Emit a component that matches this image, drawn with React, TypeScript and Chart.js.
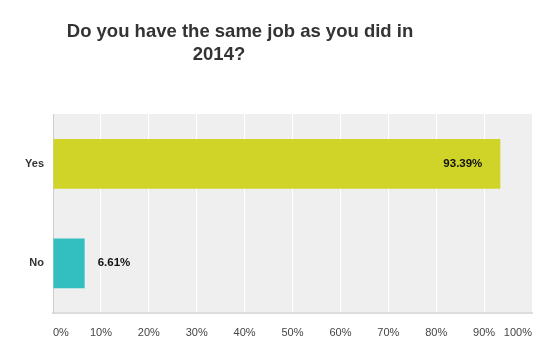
import React, { useEffect, useRef } from "react";
import { Chart, registerables } from "chart.js";

Chart.register(...registerables);

const categories = ["Yes", "No"];
const values = [93.39, 6.61];
const valueLabels = ["93.39%", "6.61%"];
const barColors = ["#D0D428", "#33BEC0"];
const xTicks = [0, 10, 20, 30, 40, 50, 60, 70, 80, 90, 100];
const titleLines = ["Do you have the same job as you did in", "2014?"];

const FONT = "'Liberation Sans', Arial, sans-serif";

const customPlugin = {
  id: "custom",
  beforeDraw(chart: any) {
    const { ctx, chartArea } = chart;
    ctx.save();
    ctx.fillStyle = "#efefef";
    ctx.fillRect(chartArea.left, chartArea.top, chartArea.right - chartArea.left, chartArea.bottom - chartArea.top);
    ctx.restore();
  },
  afterDraw(chart: any) {
    const { ctx, chartArea } = chart;
    const xs = chart.scales.x;
    ctx.save();
    // title
    ctx.fillStyle = "#333333";
    ctx.font = `bold 18.5px ${FONT}`;
    ctx.textBaseline = "middle";
    ctx.textAlign = "center";
    ctx.fillText(titleLines[0], 240, 32);
    ctx.fillText(titleLines[1], 219, 55);
    // x tick labels
    ctx.font = `11px ${FONT}`;
    ctx.fillStyle = "#444444";
    xTicks.forEach((t, i) => {
      const px = xs.getPixelForValue(t);
      ctx.textAlign = i === 0 ? "left" : i === xTicks.length - 1 ? "right" : "center";
      ctx.fillText(t + "%", px, chartArea.bottom + 20);
    });
    // value labels
    ctx.font = `bold 11.5px ${FONT}`;
    ctx.fillStyle = "#111111";
    const meta = chart.getDatasetMeta(0);
    meta.data.forEach((bar: any, i: number) => {
      const inside = values[i] > 50;
      ctx.textAlign = inside ? "right" : "left";
      ctx.fillText(valueLabels[i], inside ? bar.x - 18 : bar.x + 13, bar.y);
    });
    ctx.restore();
  },
};

export default function App() {
  const ref = useRef<HTMLCanvasElement>(null);
  useEffect(() => {
    document.body.style.margin = "0";
    const chart = new Chart(ref.current!, {
      type: "bar",
      data: {
        labels: categories,
        datasets: [
          {
            data: values,
            backgroundColor: barColors,
            barPercentage: 0.5,
            categoryPercentage: 1,
          },
        ],
      },
      options: {
        indexAxis: "y",
        responsive: false,
        animation: false,
        layout: { padding: { left: 0, right: 28, top: 114, bottom: 46 } },
        plugins: { legend: { display: false }, tooltip: { enabled: false }, title: { display: false } },
        scales: {
          x: {
            min: 0,
            max: 100,
            ticks: { display: false, stepSize: 10 },
            grid: { color: "#ffffff", lineWidth: 1, drawTicks: false },
            border: { color: "#dddddd", width: 2 },
          },
          y: {
            afterFit: (s: any) => {
              s.width = 53;
            },
            ticks: { color: "#333333", font: { family: FONT, size: 11, weight: "bold" }, padding: 9 },
            grid: { display: false, drawTicks: false },
            border: { color: "#cccccc", width: 1 },
          },
        },
      },
      plugins: [customPlugin],
    } as any);
    return () => chart.destroy();
  }, []);
  return (
    <div style={{ position: "absolute", left: 0, top: 0, width: 560, height: 359 }}>
      <canvas ref={ref} width={560} height={359} />
    </div>
  );
}
